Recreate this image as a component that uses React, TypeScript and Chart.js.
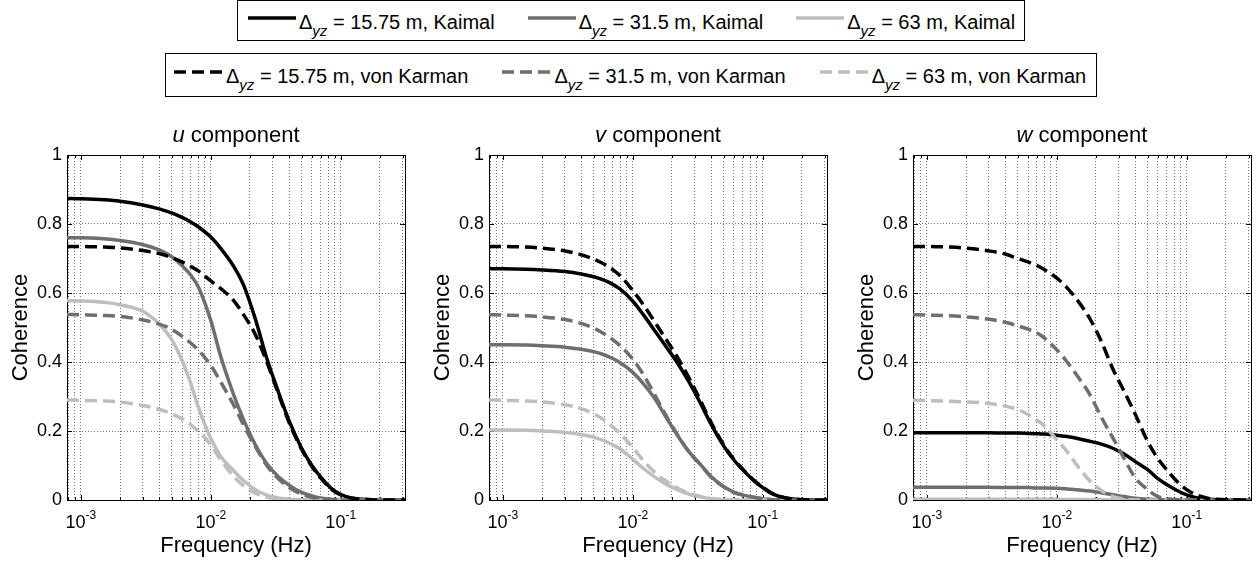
import React, { useEffect, useRef } from "react";
import { Chart, registerables } from "chart.js";

Chart.register(...registerables);

const FONT = "'Liberation Sans', Arial, Helvetica, sans-serif";

// ---------- data ----------
const FREQ = [
  0.00078125, 0.001, 0.0015, 0.002, 0.003, 0.004, 0.005, 0.006, 0.007, 0.008,
  0.01, 0.012, 0.015, 0.018, 0.022, 0.027, 0.033, 0.04, 0.05, 0.06,
  0.07, 0.085, 0.1, 0.12, 0.15, 0.2, 0.3125,
];

// u component
const U_KAIMAL_15 = [0.874, 0.873, 0.87, 0.866, 0.855, 0.844, 0.832, 0.819, 0.806, 0.792, 0.762, 0.728, 0.677, 0.62, 0.525, 0.41, 0.315, 0.23, 0.15, 0.1, 0.067, 0.033, 0.016, 0.006, 0.002, 0, 0];
const U_KAIMAL_31 = [0.76, 0.76, 0.757, 0.752, 0.74, 0.725, 0.705, 0.68, 0.652, 0.618, 0.52, 0.412, 0.305, 0.23, 0.16, 0.105, 0.068, 0.043, 0.022, 0.012, 0.006, 0.002, 0.001, 0, 0, 0, 0];
const U_KAIMAL_63 = [0.578, 0.577, 0.573, 0.566, 0.547, 0.51, 0.465, 0.405, 0.338, 0.27, 0.178, 0.125, 0.085, 0.055, 0.03, 0.014, 0.006, 0.002, 0.001, 0, 0, 0, 0, 0, 0, 0, 0];
const U_VK_15 = [0.735, 0.735, 0.733, 0.731, 0.723, 0.714, 0.703, 0.69, 0.677, 0.664, 0.635, 0.612, 0.578, 0.535, 0.48, 0.4, 0.31, 0.225, 0.147, 0.097, 0.064, 0.031, 0.015, 0.006, 0.002, 0, 0];
const U_VK_31 = [0.538, 0.537, 0.535, 0.532, 0.522, 0.51, 0.495, 0.475, 0.455, 0.435, 0.39, 0.34, 0.275, 0.215, 0.155, 0.1, 0.062, 0.036, 0.017, 0.008, 0.004, 0.001, 0, 0, 0, 0, 0];
const U_VK_63 = [0.29, 0.289, 0.287, 0.284, 0.274, 0.263, 0.25, 0.235, 0.218, 0.2, 0.16, 0.115, 0.068, 0.04, 0.02, 0.008, 0.003, 0.001, 0, 0, 0, 0, 0, 0, 0, 0, 0];

// v component
const V_KAIMAL_15 = [0.67, 0.67, 0.669, 0.667, 0.662, 0.655, 0.647, 0.637, 0.625, 0.611, 0.576, 0.538, 0.487, 0.445, 0.398, 0.343, 0.282, 0.22, 0.157, 0.116, 0.088, 0.057, 0.036, 0.017, 0.006, 0.001, 0];
const V_KAIMAL_31 = [0.45, 0.45, 0.449, 0.447, 0.443, 0.437, 0.43, 0.421, 0.41, 0.398, 0.37, 0.338, 0.29, 0.24, 0.188, 0.14, 0.104, 0.068, 0.039, 0.023, 0.015, 0.008, 0.004, 0.001, 0, 0, 0];
const V_KAIMAL_63 = [0.203, 0.203, 0.202, 0.2, 0.196, 0.19, 0.182, 0.172, 0.16, 0.148, 0.118, 0.092, 0.065, 0.046, 0.03, 0.017, 0.009, 0.004, 0.001, 0, 0, 0, 0, 0, 0, 0, 0];
const V_VK_15 = [0.735, 0.735, 0.733, 0.73, 0.722, 0.711, 0.698, 0.684, 0.668, 0.65, 0.607, 0.567, 0.512, 0.466, 0.415, 0.355, 0.29, 0.225, 0.16, 0.118, 0.09, 0.058, 0.037, 0.018, 0.006, 0.001, 0];
const V_VK_31 = [0.537, 0.536, 0.534, 0.531, 0.523, 0.512, 0.498, 0.482, 0.465, 0.447, 0.408, 0.365, 0.3, 0.245, 0.19, 0.14, 0.103, 0.067, 0.038, 0.022, 0.014, 0.008, 0.004, 0.001, 0, 0, 0];
const V_VK_63 = [0.29, 0.289, 0.287, 0.284, 0.276, 0.265, 0.25, 0.232, 0.212, 0.192, 0.152, 0.115, 0.078, 0.055, 0.035, 0.02, 0.01, 0.004, 0.001, 0, 0, 0, 0, 0, 0, 0, 0];

// w component
const W_KAIMAL_15 = [0.195, 0.195, 0.195, 0.195, 0.195, 0.194, 0.194, 0.193, 0.192, 0.191, 0.188, 0.184, 0.177, 0.17, 0.162, 0.15, 0.133, 0.112, 0.088, 0.062, 0.045, 0.027, 0.015, 0.006, 0.002, 0, 0];
const W_KAIMAL_31 = [0.037, 0.037, 0.037, 0.037, 0.037, 0.036, 0.036, 0.036, 0.035, 0.035, 0.034, 0.032, 0.029, 0.026, 0.021, 0.015, 0.01, 0.005, 0.002, 0.001, 0, 0, 0, 0, 0, 0, 0];
const W_KAIMAL_63 = [0.002, 0.002, 0.002, 0.002, 0.002, 0.002, 0.002, 0.002, 0.002, 0.002, 0.002, 0.0015, 0.0012, 0.001, 0.0007, 0.0004, 0.0002, 0.0001, 0, 0, 0, 0, 0, 0, 0, 0, 0];
const W_VK_15 = [0.735, 0.735, 0.733, 0.73, 0.722, 0.713, 0.7, 0.69, 0.68, 0.668, 0.643, 0.615, 0.57, 0.525, 0.46, 0.38, 0.315, 0.25, 0.17, 0.12, 0.088, 0.052, 0.03, 0.014, 0.004, 0.001, 0];
const W_VK_31 = [0.537, 0.536, 0.534, 0.531, 0.524, 0.515, 0.505, 0.495, 0.485, 0.47, 0.435, 0.4, 0.35, 0.305, 0.24, 0.18, 0.12, 0.065, 0.03, 0.01, 0.004, 0.001, 0, 0, 0, 0, 0];
const W_VK_63 = [0.289, 0.288, 0.286, 0.284, 0.28, 0.272, 0.262, 0.248, 0.232, 0.215, 0.175, 0.14, 0.09, 0.055, 0.028, 0.01, 0.003, 0, 0, 0, 0, 0, 0, 0, 0, 0, 0];

const X_MIN = 0.00078125;
const X_MAX = 0.3125;
const X_GRID = [
  0.0008, 0.0009, 0.001, 0.002, 0.003, 0.004, 0.005, 0.006, 0.007, 0.008, 0.009,
  0.01, 0.02, 0.03, 0.04, 0.05, 0.06, 0.07, 0.08, 0.09, 0.1, 0.2, 0.3,
];
const X_DECADES = [0.001, 0.01, 0.1];
const X_DECADE_EXPONENTS = ["-3", "-2", "-1"];
const Y_TICKS = [0, 0.2, 0.4, 0.6, 0.8, 1];

const SEPARATIONS = ["15.75", "31.5", "63"];
const MODELS = ["Kaimal", "von Karman"];
const PANEL_VARIABLES = ["u", "v", "w"];
const PANEL_DATA = [
  [[U_KAIMAL_15, U_KAIMAL_31, U_KAIMAL_63], [U_VK_15, U_VK_31, U_VK_63]],
  [[V_KAIMAL_15, V_KAIMAL_31, V_KAIMAL_63], [V_VK_15, V_VK_31, V_VK_63]],
  [[W_KAIMAL_15, W_KAIMAL_31, W_KAIMAL_63], [W_VK_15, W_VK_31, W_VK_63]],
];

// ---------- styles ----------
const SHADES = ["#000000", "#6e6e6e", "#bebebe"];
const DASH = [12, 6];
const LINE_W = 3.5;
const GRID_COLOR = "rgba(0,0,0,0.55)";

const PANEL_LEFT = [0, 422, 846];
const PANEL_WIDTH = [423, 423, 412];
const PANEL_PAD_RIGHT = [18, 18, 7];
const PANEL_TOP = 110;
const PANEL_HEIGHT = 453;

function decorPlugin(variable: string) {
  return {
    id: "decor",
    beforeDatasetsDraw(chart: any) {
      const { ctx, chartArea: a, scales } = chart;
      const L = Math.round(a.left);
      const R = Math.round(a.right);
      const T = Math.round(a.top);
      const B = Math.round(a.bottom);
      ctx.save();
      ctx.setLineDash([]);
      ctx.strokeStyle = "#000";
      ctx.lineWidth = 1;
      ctx.strokeRect(L + 0.5, T + 0.5, R - L, B - T);
      ctx.beginPath();
      X_GRID.forEach((v) => {
        const x = Math.round(scales.x.getPixelForValue(v)) + 0.5;
        const len = X_DECADES.includes(v) ? 5 : 3;
        ctx.moveTo(x, B);
        ctx.lineTo(x, B - len);
        ctx.moveTo(x, T);
        ctx.lineTo(x, T + len);
      });
      Y_TICKS.forEach((v) => {
        const y = Math.round(scales.y.getPixelForValue(v)) + 0.5;
        ctx.moveTo(L, y);
        ctx.lineTo(L + 5, y);
        ctx.moveTo(R, y);
        ctx.lineTo(R - 5, y);
      });
      ctx.stroke();
      ctx.restore();
    },
    afterDraw(chart: any) {
      const { ctx, chartArea: a, scales } = chart;
      const cx = (a.left + a.right) / 2;
      ctx.save();
      ctx.fillStyle = "#000";
      ctx.textBaseline = "alphabetic";

      // title
      ctx.font = `italic 22px ${FONT}`;
      const w1 = ctx.measureText(variable).width;
      ctx.font = `22px ${FONT}`;
      const rest = " component";
      const w2 = ctx.measureText(rest).width;
      const x0 = cx - (w1 + w2) / 2;
      ctx.textAlign = "left";
      ctx.font = `italic 22px ${FONT}`;
      ctx.fillText(variable, x0, a.top - 13.5);
      ctx.font = `22px ${FONT}`;
      ctx.fillText(rest, x0 + w1, a.top - 13.5);

      // x label
      ctx.textAlign = "center";
      ctx.fillText("Frequency (Hz)", cx, a.bottom + 52);

      // y label
      ctx.save();
      ctx.translate(a.left - 40.3, (a.top + a.bottom) / 2);
      ctx.rotate(-Math.PI / 2);
      ctx.textAlign = "center";
      ctx.fillText("Coherence", 0, 0);
      ctx.restore();

      // x tick labels 10^k
      ctx.textAlign = "left";
      X_DECADES.forEach((v, i) => {
        const x = scales.x.getPixelForValue(v);
        ctx.font = `18px ${FONT}`;
        const wb = ctx.measureText("10").width;
        ctx.font = `12px ${FONT}`;
        const we = ctx.measureText(X_DECADE_EXPONENTS[i]).width;
        const s = x - (wb + we) / 2;
        ctx.font = `18px ${FONT}`;
        ctx.fillText("10", s, a.bottom + 28);
        ctx.font = `12px ${FONT}`;
        ctx.fillText(X_DECADE_EXPONENTS[i], s + wb, a.bottom + 18.5);
      });
      ctx.restore();
    },
  };
}

function buildChart(canvas: HTMLCanvasElement, p: number) {
  const datasets: any[] = [];
  [1, 0].forEach((m) => {
    [0, 1, 2].forEach((s) => {
      const values = PANEL_DATA[p][m][s];
      datasets.push({
        label: `Δyz = ${SEPARATIONS[s]} m, ${MODELS[m]}`,
        data: FREQ.map((f, i) => ({ x: f, y: values[i] })),
        borderColor: SHADES[s],
        backgroundColor: SHADES[s],
        borderWidth: LINE_W,
        borderDash: m === 1 ? DASH : [],
        borderCapStyle: "butt",
        pointRadius: 0,
        fill: false,
        cubicInterpolationMode: "monotone",
      });
    });
  });

  return new Chart(canvas, {
    type: "line",
    data: { datasets },
    options: {
      animation: false,
      responsive: false,
      devicePixelRatio: 1,
      events: [],
      layout: { padding: { left: 7, right: PANEL_PAD_RIGHT[p], top: 45, bottom: 53 } },
      plugins: { legend: { display: false }, tooltip: { enabled: false }, title: { display: false } },
      scales: {
        x: {
          type: "logarithmic",
          min: X_MIN,
          max: X_MAX,
          afterBuildTicks: (scale: any) => {
            scale.ticks = X_GRID.map((v) => ({ value: v }));
          },
          afterFit: (scale: any) => {
            scale.height = 10;
          },
          ticks: { display: false },
          grid: { color: GRID_COLOR, lineWidth: 1, drawTicks: false },
          border: { display: false, dash: [1, 2] },
        },
        y: {
          type: "linear",
          min: 0,
          max: 1,
          afterBuildTicks: (scale: any) => {
            scale.ticks = Y_TICKS.map((v) => ({ value: v }));
          },
          afterFit: (scale: any) => {
            scale.width = 60;
          },
          ticks: {
            color: "#000",
            padding: 5,
            font: { family: FONT, size: 18 },
            callback: (v: any) => String(Math.round(v * 10) / 10),
          },
          grid: { color: GRID_COLOR, lineWidth: 1, drawTicks: false },
          border: { display: false, dash: [1, 2] },
        },
      },
    } as any,
    plugins: [decorPlugin(PANEL_VARIABLES[p])],
  });
}

function Panel({ index }: { index: number }) {
  const ref = useRef<HTMLCanvasElement>(null);
  useEffect(() => {
    if (!ref.current) return;
    const chart = buildChart(ref.current, index);
    return () => chart.destroy();
  }, [index]);
  return (
    <canvas
      ref={ref}
      width={PANEL_WIDTH[index]}
      height={PANEL_HEIGHT}
      style={{
        position: "absolute",
        left: PANEL_LEFT[index],
        top: PANEL_TOP,
        width: PANEL_WIDTH[index],
        height: PANEL_HEIGHT,
      }}
    />
  );
}

function LegendItem({ s, m, first, gap }: { s: number; m: number; first: boolean; gap: number }) {
  return (
    <div style={{ display: "flex", alignItems: "flex-start", marginLeft: first ? 0 : gap }}>
      <svg width={48} height={20} style={{ display: "block" }}>
        <line
          x1={0}
          y1={10}
          x2={48}
          y2={10}
          stroke={SHADES[s]}
          strokeWidth={LINE_W}
          strokeDasharray={m === 1 ? DASH.join(" ") : undefined}
        />
      </svg>
      <span
        style={{
          display: "block",
          marginLeft: m === 1 ? 4 : 3,
          marginTop: 4,
          fontSize: 20,
          lineHeight: "20px",
          whiteSpace: "nowrap",
        }}
      >
        Δ
        <span style={{ fontStyle: "italic", fontSize: 15, position: "relative", top: 7 }}>yz</span>
        {` = ${SEPARATIONS[s]} m, ${MODELS[m]}`}
      </span>
    </div>
  );
}

function LegendBox({ m, left, top, width, height, padL, padT, gap }: any) {
  return (
    <div
      style={{
        position: "absolute",
        left,
        top,
        width,
        height,
        border: "1px solid #000",
        boxSizing: "border-box",
        background: "#fff",
      }}
    >
      <div style={{ position: "absolute", left: padL, top: padT, display: "flex" }}>
        {[0, 1, 2].map((s) => (
          <LegendItem key={s} s={s} m={m} first={s === 0} gap={gap} />
        ))}
      </div>
    </div>
  );
}

export default function App() {
  return (
    <div
      style={{
        position: "absolute",
        left: 0,
        top: 0,
        width: 1258,
        height: 563,
        overflow: "hidden",
        background: "#fff",
        fontFamily: FONT,
        color: "#000",
      }}
    >
      <LegendBox m={0} left={237} top={0} width={788} height={41} padL={10} padT={7} gap={33} />
      <LegendBox m={1} left={165} top={53} width={932} height={44} padL={8} padT={8} gap={34} />
      {[0, 1, 2].map((i) => (
        <Panel key={i} index={i} />
      ))}
    </div>
  );
}
